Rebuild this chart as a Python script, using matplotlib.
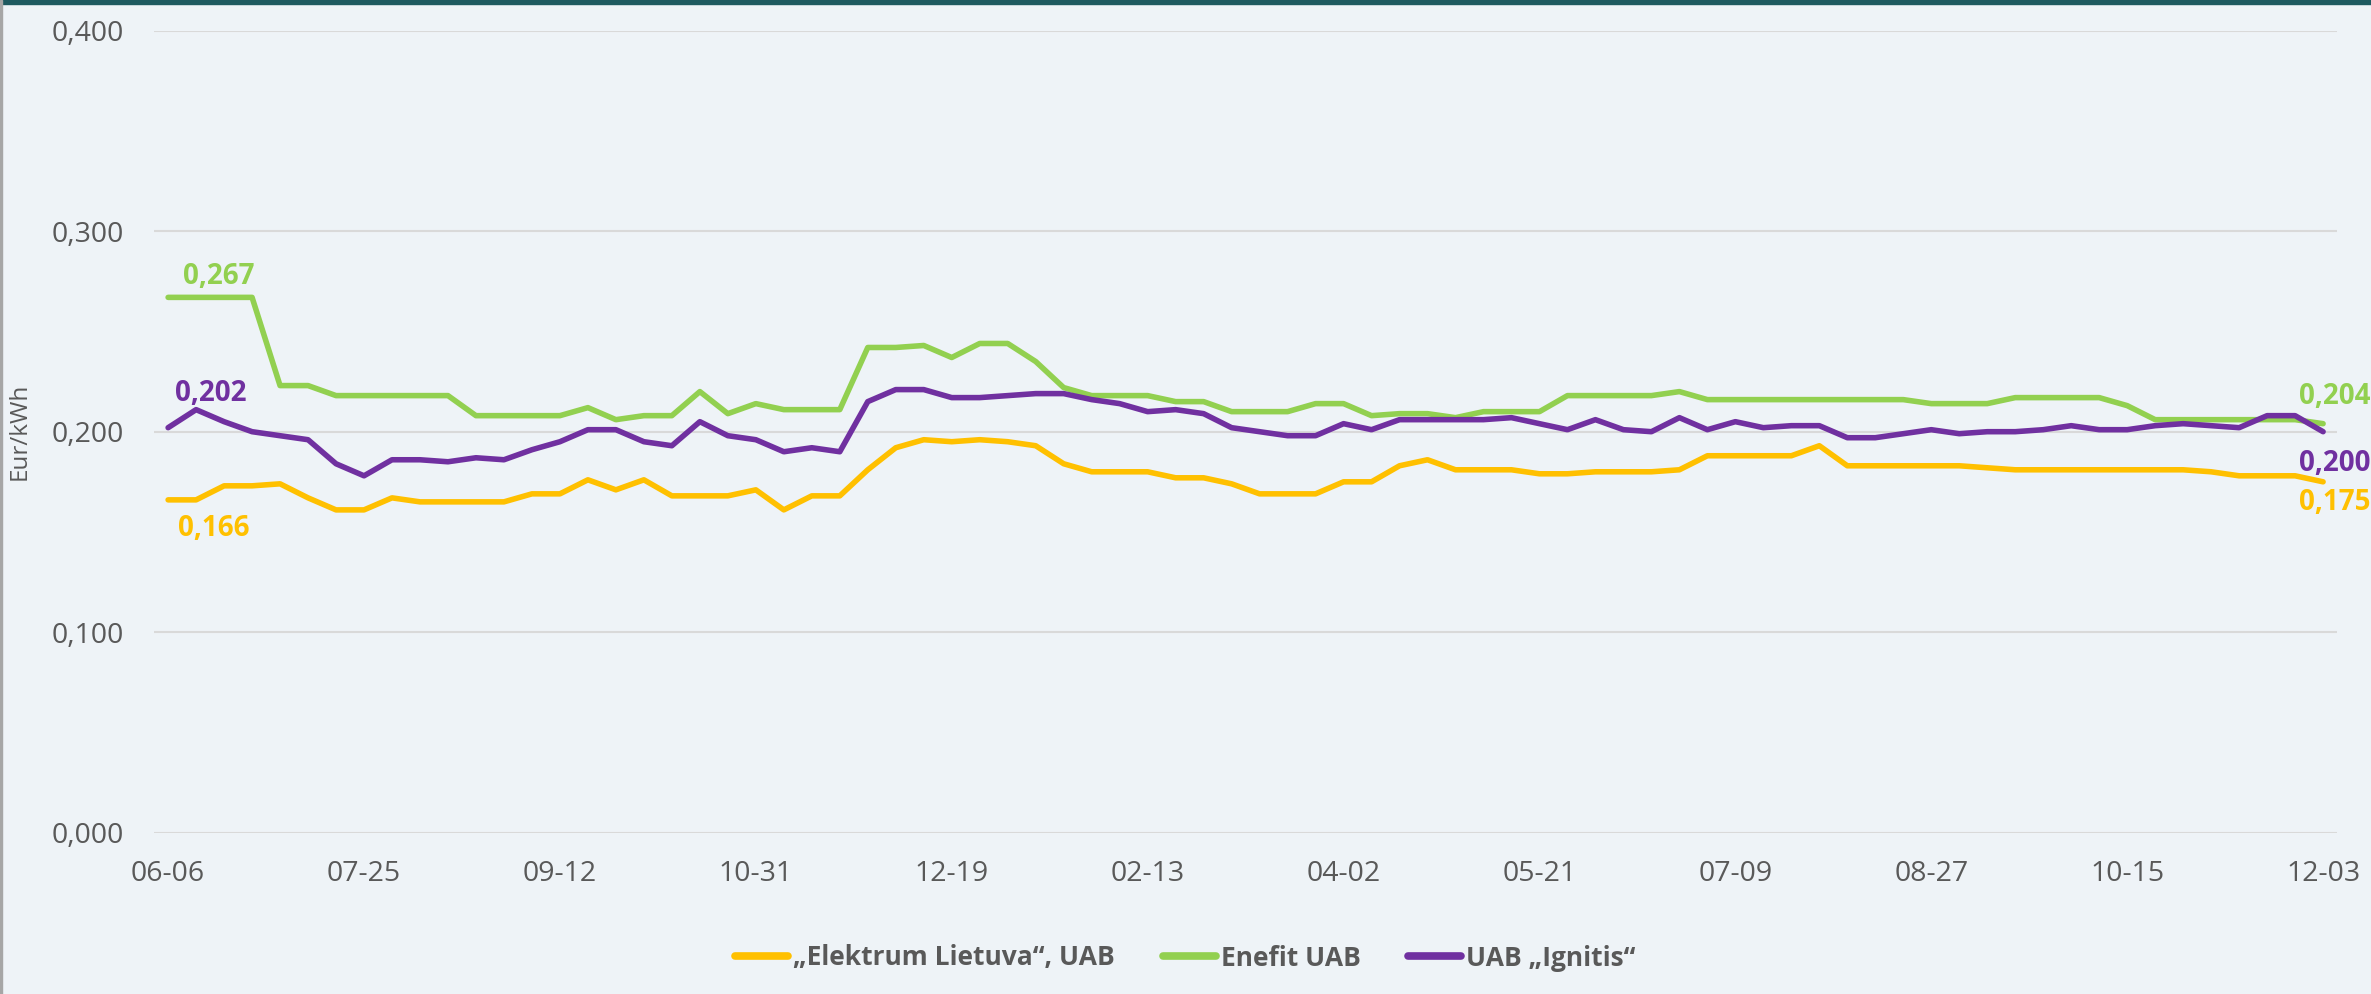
import matplotlib
matplotlib.use("Agg")
import matplotlib.pyplot as plt
from matplotlib.ticker import FuncFormatter, FixedLocator
from matplotlib.patches import Rectangle

dates = ["06-06", "06-13", "06-20", "06-27", "07-04", "07-11", "07-18", "07-25",
         "08-01", "08-08", "08-15", "08-22", "08-29", "09-05", "09-12",
         "09-19", "09-26", "10-03", "10-10", "10-17", "10-24", "10-31",
         "11-07", "11-14", "11-21", "11-28", "12-05", "12-12", "12-19",
         "01-02", "01-09", "01-16", "01-23", "01-30", "02-06", "02-13",
         "02-20", "02-27", "03-05", "03-12", "03-19", "03-26", "04-02",
         "04-09", "04-16", "04-23", "04-30", "05-07", "05-14", "05-21",
         "05-28", "06-04", "06-11", "06-18", "06-25", "07-02", "07-09",
         "07-16", "07-23", "07-30", "08-06", "08-13", "08-20", "08-27",
         "09-03", "09-10", "09-17", "09-24", "10-01", "10-08", "10-15",
         "10-22", "10-29", "11-05", "11-12", "11-19", "11-26", "12-03"]

elektrum = [0.166, 0.166, 0.173, 0.173, 0.174, 0.167, 0.161, 0.161, 0.167, 0.165,
            0.165, 0.165, 0.165, 0.169, 0.169, 0.176, 0.171, 0.176, 0.168, 0.168,
            0.168, 0.171, 0.161, 0.168, 0.168, 0.181, 0.192, 0.196, 0.195, 0.196,
            0.195, 0.193, 0.184, 0.180, 0.180, 0.180, 0.177, 0.177, 0.174, 0.169,
            0.169, 0.169, 0.175, 0.175, 0.183, 0.186, 0.181, 0.181, 0.181, 0.179,
            0.179, 0.180, 0.180, 0.180, 0.181, 0.188, 0.188, 0.188, 0.188, 0.193,
            0.183, 0.183, 0.183, 0.183, 0.183, 0.182, 0.181, 0.181, 0.181, 0.181,
            0.181, 0.181, 0.181, 0.180, 0.178, 0.178, 0.178, 0.175]

enefit = [0.267, 0.267, 0.267, 0.267, 0.223, 0.223, 0.218, 0.218, 0.218, 0.218,
          0.218, 0.208, 0.208, 0.208, 0.208, 0.212, 0.206, 0.208, 0.208, 0.220,
          0.209, 0.214, 0.211, 0.211, 0.211, 0.242, 0.242, 0.243, 0.237, 0.244,
          0.244, 0.235, 0.222, 0.218, 0.218, 0.218, 0.215, 0.215, 0.210, 0.210,
          0.210, 0.214, 0.214, 0.208, 0.209, 0.209, 0.207, 0.210, 0.210, 0.210,
          0.218, 0.218, 0.218, 0.218, 0.220, 0.216, 0.216, 0.216, 0.216, 0.216,
          0.216, 0.216, 0.216, 0.214, 0.214, 0.214, 0.217, 0.217, 0.217, 0.217,
          0.213, 0.206, 0.206, 0.206, 0.206, 0.206, 0.206, 0.204]

ignitis = [0.202, 0.211, 0.205, 0.200, 0.198, 0.196, 0.184, 0.178, 0.186, 0.186,
           0.185, 0.187, 0.186, 0.191, 0.195, 0.201, 0.201, 0.195, 0.193, 0.205,
           0.198, 0.196, 0.190, 0.192, 0.190, 0.215, 0.221, 0.221, 0.217, 0.217,
           0.218, 0.219, 0.219, 0.216, 0.214, 0.210, 0.211, 0.209, 0.202, 0.200,
           0.198, 0.198, 0.204, 0.201, 0.206, 0.206, 0.206, 0.206, 0.207, 0.204,
           0.201, 0.206, 0.201, 0.200, 0.207, 0.201, 0.205, 0.202, 0.203, 0.203,
           0.197, 0.197, 0.199, 0.201, 0.199, 0.200, 0.200, 0.201, 0.203, 0.201,
           0.201, 0.203, 0.204, 0.203, 0.202, 0.208, 0.208, 0.200]

series_names = ["\u201eElektrum Lietuva\u201c, UAB", "Enefit UAB", "UAB \u201eIgnitis\u201c"]
colors = ["#FFC000", "#92D050", "#7030A0"]
yticks = [0.0, 0.1, 0.2, 0.3, 0.4]
xtick_step = 7

BG = "#EEF3F7"
TXT = "#595959"
plt.rcParams['font.family'] = ['Open Sans', 'DejaVu Sans']

fig = plt.figure(figsize=(23.71, 9.94), dpi=100, facecolor=BG)
ax = fig.add_axes([0.065, 0.1623, 0.9207, 0.8068])
ax.set_facecolor(BG)

x = list(range(len(dates)))
series = [elektrum, enefit, ignitis]
lines = []
for vals, name, c in zip(series, series_names, colors):
    ln, = ax.plot(x, vals, color=c, lw=4.0, label=name,
                  solid_capstyle='round', solid_joinstyle='round', zorder=3)
    lines.append(ln)

ax.set_xlim(-0.5, len(dates) - 0.5)
ax.set_ylim(0, 0.4)
ax.set_yticks(yticks)
ax.yaxis.set_major_formatter(FuncFormatter(lambda v, p: f"{v:.3f}".replace(".", ",")))
ax.xaxis.set_major_locator(FixedLocator(x[::xtick_step]))
ax.set_xticklabels(dates[::xtick_step])
ax.grid(axis='y', color='#D9D9D9', lw=1.5, zorder=0)
ax.tick_params(axis='both', length=0, labelsize=20.5, labelcolor=TXT)
ax.tick_params(axis='y', pad=22)
ax.tick_params(axis='x', pad=20)
for s in ax.spines.values():
    s.set_visible(False)

ax.set_ylabel("Eur/kWh", fontsize=17.5, color=TXT, labelpad=10)
ax.yaxis.set_label_coords(-0.056, 0.5)

# data labels
first_offsets = [(10, -36), (15, 13), (7, 27)]
last_offsets = [(-24, -28), (-24, 20), (-24, -39)]
for vals, c, fo, lo in zip(series, colors, first_offsets, last_offsets):
    ax.annotate(f"{vals[0]:.3f}".replace(".", ","), (0, vals[0]), xytext=fo,
                textcoords='offset pixels', ha='left', va='baseline',
                fontsize=20, fontweight='bold', color=c, annotation_clip=False)
    ax.annotate(f"{vals[-1]:.3f}".replace(".", ","), (x[-1], vals[-1]), xytext=lo,
                textcoords='offset pixels', ha='left', va='baseline',
                fontsize=20, fontweight='bold', color=c, annotation_clip=False)

leg = fig.legend(handles=lines, loc='center', bbox_to_anchor=(0.5, 1 - 958 / 994),
                 ncol=3, frameon=False, fontsize=19, handlelength=2.0,
                 handletextpad=0.2, columnspacing=1.8)
for t in leg.get_texts():
    t.set_color(TXT)
    t.set_fontweight('bold')
for h in leg.legend_handles:
    h.set_linewidth(5.5)
    h.set_solid_capstyle('round')

# frame decorations
fig.patches.append(Rectangle((0, 1 - 4 / 994), 1, 4 / 994, transform=fig.transFigure,
                             color="#1E5A60", zorder=10))
fig.patches.append(Rectangle((0, 0), 2 / 2371, 1, transform=fig.transFigure,
                             color="#A6A6A6", zorder=10))

fig.savefig("out.png", dpi=100, facecolor=BG)
